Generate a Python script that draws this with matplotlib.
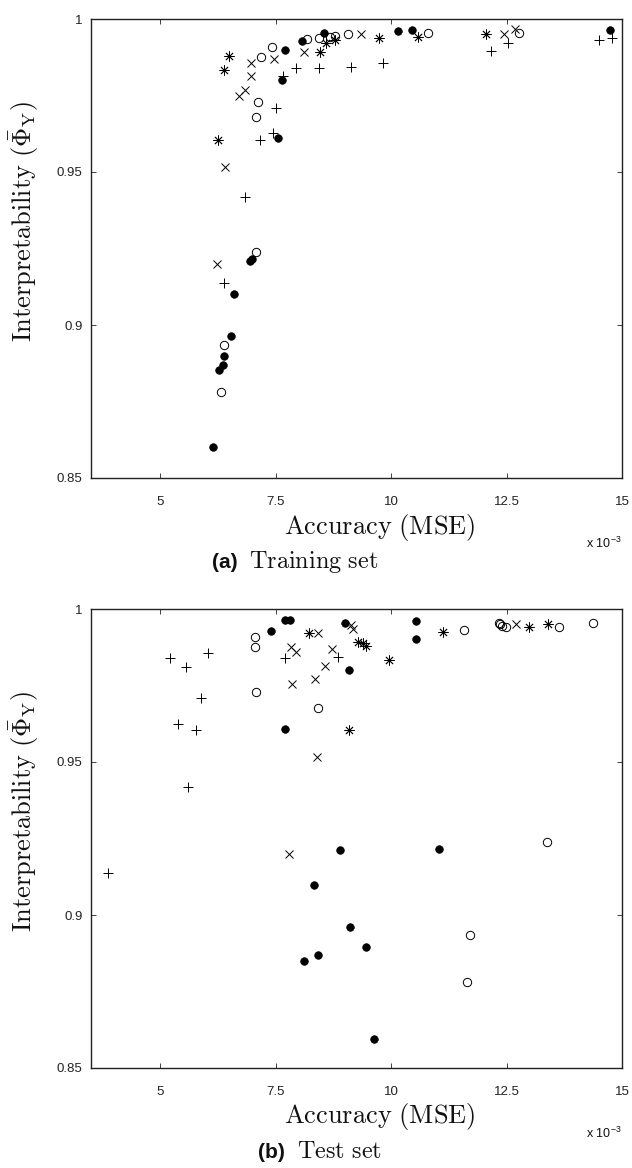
import matplotlib
matplotlib.use("Agg")
import matplotlib.pyplot as plt

plt.rcParams['mathtext.fontset'] = 'cm'
plt.rcParams['font.family'] = ['Liberation Sans', 'DejaVu Sans']

# ---- Training set (x in units of 1e-3 MSE) ----
tr_filled_x = [7.70, 8.08, 8.54, 10.15, 10.45, 7.63, 7.54, 14.73, 6.99, 6.95, 6.60, 6.53, 6.39, 6.36, 6.27, 6.15]
tr_filled_y = [0.990, 0.9927, 0.9953, 0.9961, 0.9964, 0.980, 0.961, 0.9964, 0.9216, 0.921, 0.910, 0.8963, 0.890, 0.887, 0.8853, 0.860]
tr_open_x = [7.07, 6.38, 6.31, 7.12, 7.08, 7.41, 7.19, 8.18, 8.44, 8.67, 8.78, 9.06, 10.80, 12.77]
tr_open_y = [0.924, 0.8936, 0.878, 0.973, 0.968, 0.9908, 0.9875, 0.9934, 0.9939, 0.9942, 0.9946, 0.995, 0.9953, 0.9955]
tr_cross_x = [9.34, 8.12, 7.47, 6.96, 6.96, 6.83, 6.71, 6.40, 6.22, 12.45, 12.68]
tr_cross_y = [0.995, 0.9891, 0.987, 0.9856, 0.9814, 0.9768, 0.9747, 0.9516, 0.920, 0.995, 0.9966]
tr_star_x = [6.49, 6.37, 6.26, 8.46, 8.58, 8.78, 9.73, 10.58, 12.05]
tr_star_y = [0.988, 0.9834, 0.9605, 0.9891, 0.992, 0.993, 0.9939, 0.9942, 0.995]
tr_plus_x = [7.93, 8.44, 9.13, 9.83, 7.66, 7.50, 7.45, 7.16, 6.83, 6.38, 12.16, 12.53, 14.5, 14.79]
tr_plus_y = [0.9839, 0.9841, 0.9844, 0.9856, 0.9814, 0.9709, 0.9627, 0.9605, 0.9417, 0.9138, 0.9897, 0.9923, 0.9932, 0.9939]

# ---- Test set ----
te_filled_x = [7.39, 7.70, 7.81, 9.00, 9.08, 7.71, 10.53, 10.53, 8.89, 11.03, 8.33, 9.11, 9.45, 8.42, 8.12, 9.63]
te_filled_y = [0.9927, 0.9965, 0.9965, 0.9953, 0.980, 0.9609, 0.9961, 0.9903, 0.9212, 0.9217, 0.9099, 0.896, 0.8896, 0.8869, 0.885, 0.8595]
te_open_x = [7.06, 7.06, 7.07, 8.42, 11.57, 12.33, 12.35, 12.41, 12.48, 13.64, 14.37, 13.37, 11.71, 11.65]
te_open_y = [0.9908, 0.9875, 0.973, 0.9677, 0.9932, 0.9955, 0.995, 0.9944, 0.994, 0.994, 0.9953, 0.9238, 0.8934, 0.878]
te_cross_x = [9.14, 9.18, 8.42, 7.84, 7.94, 8.71, 8.56, 8.36, 7.86, 8.39, 12.71, 7.79]
te_cross_y = [0.9948, 0.9934, 0.9921, 0.9877, 0.9860, 0.9868, 0.9815, 0.9771, 0.9754, 0.9515, 0.9952, 0.9198]
te_star_x = [8.23, 9.08, 9.29, 9.38, 9.45, 9.96, 11.13, 12.98, 13.40]
te_star_y = [0.9921, 0.9605, 0.9891, 0.9888, 0.988, 0.9833, 0.9926, 0.9942, 0.995]
te_plus_x = [5.21, 5.56, 6.03, 5.88, 5.39, 5.77, 5.61, 7.70, 8.85, 3.87]
te_plus_y = [0.9839, 0.981, 0.9855, 0.9708, 0.9623, 0.9604, 0.9417, 0.9841, 0.9844, 0.9136]

x_ticks = [5, 7.5, 10, 12.5, 15]
x_ticklabels = ['5', '7.5', '10', '12.5', '15']
y_ticks = [0.85, 0.9, 0.95, 1.0]
y_ticklabels = ['0.85', '0.9', '0.95', '1']

W, H = 632, 1168
fig = plt.figure(figsize=(W / 100, H / 100), dpi=100)

def px(x, y):
    return x / W, 1 - y / H

def draw_panel(rect, data, caption_letter, caption_text, top_px, letter_x, text_x):
    ax = fig.add_axes(rect)
    (fx, fy), (ox, oy), (cx, cy), (sx, sy), (pxs, pys) = data
    ax.plot(fx, fy, linestyle='none', marker='o', ms=5.4, mfc='black', mec='black', mew=0.6)
    ax.plot(ox, oy, linestyle='none', marker='o', ms=6.0, mfc='none', mec='black', mew=0.7)
    ax.plot(cx, cy, linestyle='none', marker='x', ms=5.3, mec='black', mew=0.7)
    ax.plot(sx, sy, linestyle='none', marker=(8, 2, 0), ms=7.2, mec='black', mew=0.6)
    ax.plot(pxs, pys, linestyle='none', marker='+', ms=7.5, mec='black', mew=0.7)
    ax.set_xlim(3.5, 15)
    ax.set_ylim(0.85, 1.0)
    ax.set_xticks(x_ticks)
    ax.set_xticklabels(x_ticklabels)
    ax.set_yticks(y_ticks)
    ax.set_yticklabels(y_ticklabels)
    ax.tick_params(direction='in', length=3.5, width=0.6, top=True, right=True,
                   labelsize=9.5, pad=6, colors='#222222')
    ax.tick_params(axis='x', pad=13)
    for s in ax.spines.values():
        s.set_linewidth(1.0)
        s.set_color('#222222')
    # x label
    fig.text(*px(380, top_px + 508), r'$\mathrm{Accuracy\ (MSE)}$', fontsize=19,
             ha='center', va='center', color='#111111')
    # exponent
    fig.text(*px(622, top_px + 524), r'x 10$^{\mathregular{-3}}$', fontsize=9,
             ha='right', va='center', color='#111111')
    # y label
    fig.text(*px(24, top_px + 203), r'$\mathrm{Interpretability\ }(\bar{\Phi}_{\mathrm{Y}})$',
             fontsize=19, rotation=90, ha='center', va='center', color='#111111')
    # caption
    fig.text(*px(letter_x, top_px + 543), caption_letter, fontsize=15, fontweight='bold',
             ha='left', va='center', color='#111111')
    fig.text(*px(text_x, top_px + 543), caption_text, fontsize=17.5,
             ha='left', va='center', color='#111111')
    return ax

l, r = 91, 622
top_rect = [l / W, 1 - 478 / H, (r - l) / W, (478 - 19) / H]
bot_rect = [l / W, 1 - 1068 / H, (r - l) / W, (1068 - 609) / H]

draw_panel(top_rect,
           [(tr_filled_x, tr_filled_y), (tr_open_x, tr_open_y), (tr_cross_x, tr_cross_y),
            (tr_star_x, tr_star_y), (tr_plus_x, tr_plus_y)],
           '(a)', r'$\mathrm{Training\ set}$', 19, 212, 249)
draw_panel(bot_rect,
           [(te_filled_x, te_filled_y), (te_open_x, te_open_y), (te_cross_x, te_cross_y),
            (te_star_x, te_star_y), (te_plus_x, te_plus_y)],
           '(b)', r'$\mathrm{Test\ set}$', 609, 258, 297)

fig.savefig('out.png', dpi=100)
